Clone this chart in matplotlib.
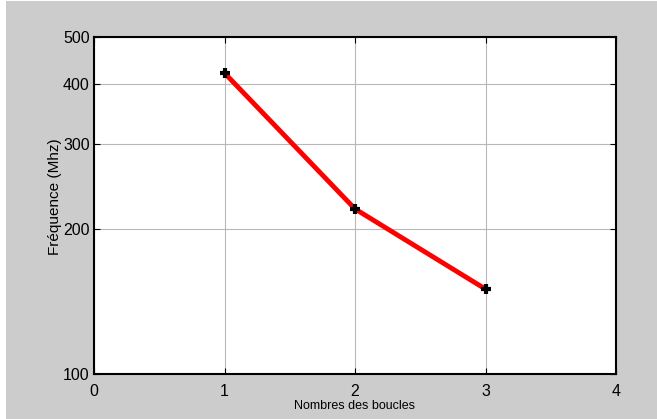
import numpy as np
import matplotlib.pyplot as plt

plt.rcParams['font.family'] = ['Liberation Sans', 'DejaVu Sans']

# nombre de boucles et fréquence mesurée
boucles = [1, 2, 3]
frequence = [421, 220, 150]

xticks = [0, 1, 2, 3, 4]
yticks = [100, 200, 300, 400, 500]

fig = plt.figure(figsize=(6.57, 4.19), dpi=100, facecolor='white')
# fond gris de la figure
bg = fig.add_axes([6 / 657, 0, 1 - 6 / 657, 1 - 1 / 419])
bg.set_facecolor('#cccccc')
bg.set_xticks([])
bg.set_yticks([])
for s in bg.spines.values():
    s.set_visible(False)

ax = fig.add_axes([94 / 657, 1 - 374 / 419, (616 - 94) / 657, (374 - 37) / 419])
ax.set_facecolor('white')
ax.set_yscale('log')
ax.set_xlim(0, 4)
ax.set_ylim(100, 500)
ax.set_xticks(xticks)
ax.set_xticklabels([str(t) for t in xticks])
ax.set_yticks(yticks)
ax.set_yticklabels([str(t) for t in yticks])
ax.yaxis.set_minor_locator(plt.NullLocator())
ax.grid(True, color='#b8b8b8', linewidth=0.8)
ax.set_axisbelow(True)
ax.tick_params(direction='in', length=4, top=True, right=True, labelsize=11.5, width=0.8)
ax.tick_params(axis='x', pad=7)
ax.tick_params(axis='y', pad=3)
for s in ax.spines.values():
    s.set_linewidth(1.5)

ax.plot(boucles, frequence, color='red', linewidth=3.5, zorder=3)
ax.plot(boucles, frequence, linestyle='none', marker='+', color='black',
        markersize=7, markeredgewidth=3, zorder=4)

ax.set_ylabel('Fréquence (Mhz)', fontsize=11)
ax.yaxis.set_label_coords(-0.062, 0.525)
ax.set_xlabel('Nombres des boucles', fontsize=9)
ax.xaxis.set_label_coords(0.5, -0.078)

fig.savefig('out.png', dpi=100, facecolor=fig.get_facecolor())
